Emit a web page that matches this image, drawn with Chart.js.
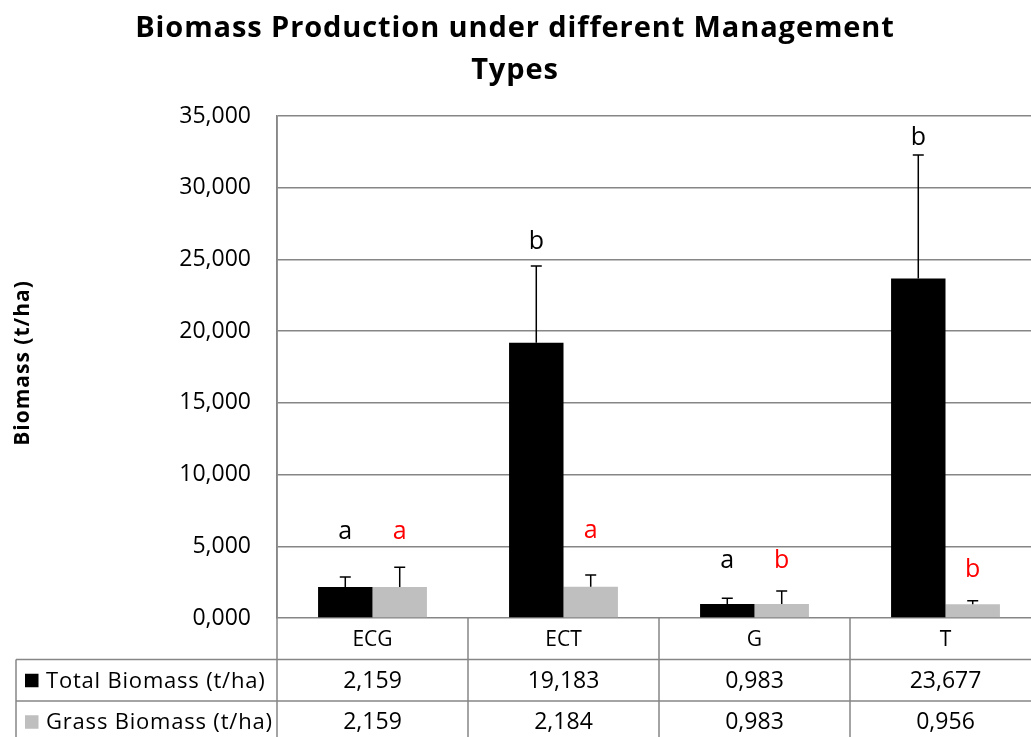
<!DOCTYPE html>
<html>
<head>
<meta charset="utf-8">
<script src="https://cdn.jsdelivr.net/npm/chart.js@4.4.1/dist/chart.umd.min.js"></script>
<style>
  html, body { margin: 0; padding: 0; overflow: hidden; background: #ffffff; }
  #wrap { width: 1031px; height: 737px; overflow: hidden; position: relative; }
  canvas { display: block; }
</style>
</head>
<body>
<div id="wrap"><canvas id="c" width="1045" height="737"></canvas></div>
<script>
// ---- data ----
const categories = ['ECG', 'ECT', 'G', 'T'];
const seriesNames = ['Total Biomass (t/ha)', 'Grass Biomass (t/ha)'];
const totalBiomass = [2.159, 19.183, 0.983, 23.677];
const grassBiomass = [2.159, 2.184, 0.983, 0.956];
const totalError = [0.70, 5.36, 0.39, 8.6];
const grassError = [1.38, 0.81, 0.90, 0.25];
const totalLetters = ['a', 'b', 'a', 'b'];
const grassLetters = ['a', 'a', 'b', 'b'];
const totalLetterPos = [5.5, 25.7, 3.5, 33.0];
const grassLetterPos = [5.5, 5.55, 3.5, 2.86];
const titleLines = ['Biomass Production under different Management', 'Types'];
const yTitle = 'Biomass (t/ha)';
const yMin = 0, yMax = 35, yStep = 5;

const FONT = "'Open Sans', 'DejaVu Sans', sans-serif";
const GRID = '#868686';
const fmt = v => Number(v).toFixed(3).replace('.', ',');

const errorBars = [totalError, grassError];
const letters = [totalLetters, grassLetters];
const letterPos = [totalLetterPos, grassLetterPos];
const letterColors = ['#000000', '#ff0000'];
const seriesColors = ['#000000', '#bfbfbf'];

function setSpacing(ctx, px) { if ('letterSpacing' in ctx) ctx.letterSpacing = px + 'px'; }

const decorPlugin = {
  id: 'decor',
  afterDatasetsDraw(chart) {
    const ctx = chart.ctx;
    const y = chart.scales.y;
    ctx.save();
    ctx.strokeStyle = '#000000';
    ctx.lineWidth = 1.5;
    chart.data.datasets.forEach((ds, di) => {
      const meta = chart.getDatasetMeta(di);
      meta.data.forEach((el, i) => {
        const top = y.getPixelForValue(ds.data[i] + errorBars[di][i]);
        ctx.beginPath();
        ctx.moveTo(el.x, el.y);
        ctx.lineTo(el.x, top);
        ctx.moveTo(el.x - 5.5, top);
        ctx.lineTo(el.x + 5.5, top);
        ctx.stroke();
      });
    });
    ctx.font = '25px ' + FONT;
    ctx.textAlign = 'center';
    ctx.textBaseline = 'alphabetic';
    chart.data.datasets.forEach((ds, di) => {
      const meta = chart.getDatasetMeta(di);
      ctx.fillStyle = letterColors[di];
      meta.data.forEach((el, i) => {
        ctx.fillText(letters[di][i], el.x, y.getPixelForValue(letterPos[di][i]));
      });
    });
    ctx.restore();
  },
  afterDraw(chart) {
    const ctx = chart.ctx;
    const area = chart.chartArea;
    const x = chart.scales.x;
    ctx.save();
    // title
    ctx.fillStyle = '#000000';
    ctx.font = 'bold 29px ' + FONT;
    setSpacing(ctx, 0.9);
    ctx.textAlign = 'center';
    ctx.textBaseline = 'alphabetic';
    ctx.fillText(titleLines[0], 515, 37);
    ctx.fillText(titleLines[1], 515, 79);

    // y axis title
    ctx.save();
    ctx.translate(23, (area.top + area.bottom) / 2 - 4);
    ctx.rotate(-Math.PI / 2);
    ctx.font = 'bold 21px ' + FONT;
    setSpacing(ctx, 1);
    ctx.textBaseline = 'middle';
    ctx.fillText(yTitle, 0, 0);
    ctx.restore();
    setSpacing(ctx, 0);

    // data table
    const rowH = 41.5;
    const y0 = area.bottom, y1 = y0 + rowH, y2 = y1 + rowH, y3 = y2 + rowH;
    const tableLeft = 16;
    ctx.strokeStyle = GRID;
    ctx.lineWidth = 1.5;
    ctx.beginPath();
    ctx.moveTo(tableLeft, y1); ctx.lineTo(area.right, y1);
    ctx.moveTo(tableLeft, y2); ctx.lineTo(area.right, y2);
    ctx.moveTo(tableLeft, y1); ctx.lineTo(tableLeft, y3);
    ctx.moveTo(area.left, area.top); ctx.lineTo(area.left, y3);
    const centers = categories.map((c, i) => x.getPixelForValue(i));
    for (let i = 0; i < centers.length - 1; i++) {
      const bx = (centers[i] + centers[i + 1]) / 2;
      ctx.moveTo(bx, y0); ctx.lineTo(bx, y3);
    }
    ctx.moveTo(area.right, y0); ctx.lineTo(area.right, y3);
    ctx.stroke();

    ctx.fillStyle = '#000000';
    ctx.textBaseline = 'middle';
    ctx.textAlign = 'center';
    ctx.font = '21px ' + FONT;
    categories.forEach((c, i) => ctx.fillText(c, centers[i], (y0 + y1) / 2 + 1));
    const rows = [totalBiomass, grassBiomass];
    rows.forEach((vals, r) => {
      const cy = (r === 0 ? (y1 + y2) / 2 : (y2 + y3) / 2) + 1;
      ctx.font = '23px ' + FONT;
      setSpacing(ctx, 0);
      ctx.textAlign = 'center';
      vals.forEach((v, i) => ctx.fillText(fmt(v), centers[i], cy));
      ctx.fillStyle = seriesColors[r];
      ctx.fillRect(25, cy - 7.5, 13.5, 13.5);
      ctx.fillStyle = '#000000';
      ctx.font = '22px ' + FONT;
      setSpacing(ctx, 0.8);
      ctx.textAlign = 'left';
      ctx.fillText(seriesNames[r], 46, cy);
    });
    ctx.restore();
  }
};

new Chart(document.getElementById('c'), {
  type: 'bar',
  data: {
    labels: categories,
    datasets: [
      { label: seriesNames[0], data: totalBiomass, backgroundColor: seriesColors[0], borderWidth: 0,
        categoryPercentage: 0.57, barPercentage: 1.0 },
      { label: seriesNames[1], data: grassBiomass, backgroundColor: seriesColors[1], borderWidth: 0,
        categoryPercentage: 0.57, barPercentage: 1.0 }
    ]
  },
  options: {
    responsive: false,
    animation: false,
    layout: { padding: { top: 116, bottom: 119, left: 0, right: 4 } },
    plugins: {
      legend: { display: false },
      title: { display: false },
      tooltip: { enabled: false }
    },
    scales: {
      x: { display: false },
      y: {
        min: yMin, max: yMax,
        ticks: {
          stepSize: yStep,
          padding: 26,
          color: '#000000',
          font: { family: FONT, size: 23 },
          callback: v => fmt(v)
        },
        grid: { color: GRID, lineWidth: 1.5, drawTicks: false },
        border: { display: true, color: GRID, width: 1.5 },
        title: { display: false },
        afterFit(scale) { scale.width = 277; }
      }
    }
  },
  plugins: [decorPlugin]
});
</script>
</body>
</html>
